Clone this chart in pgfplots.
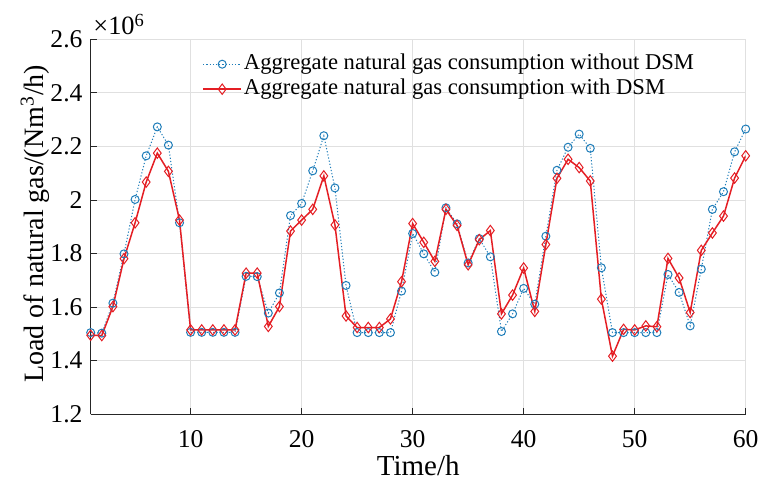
\documentclass[border=0pt]{standalone}
\usepackage{fontspec}
\setmainfont{Liberation Serif}
\usepackage{pgfplots}
\usepackage{pgfplotstable}
\pgfplotsset{compat=1.18}
\definecolor{mblue}{RGB}{30,125,185}
\definecolor{mred}{RGB}{228,30,36}
\definecolor{gridc}{RGB}{224,224,224}
\definecolor{axc}{RGB}{38,38,38}

\pgfplotstableread{
x blue red
1 1.505 1.495
2 1.503 1.494
3 1.615 1.602
4 1.799 1.781
5 2.002 1.915
6 2.165 2.067
7 2.273 2.175
8 2.205 2.107
9 1.915 1.925
10 1.506 1.515
11 1.506 1.515
12 1.506 1.515
13 1.506 1.515
14 1.506 1.515
15 1.715 1.727
16 1.714 1.727
17 1.578 1.528
18 1.653 1.602
19 1.942 1.884
20 1.987 1.925
21 2.109 1.965
22 2.240 2.090
23 2.045 1.907
24 1.681 1.567
25 1.505 1.524
26 1.505 1.524
27 1.505 1.524
28 1.505 1.556
29 1.660 1.695
30 1.875 1.912
31 1.799 1.842
32 1.730 1.771
33 1.971 1.965
34 1.911 1.905
35 1.765 1.758
36 1.856 1.852
37 1.788 1.886
38 1.509 1.575
39 1.575 1.645
40 1.670 1.746
41 1.611 1.584
42 1.865 1.834
43 2.111 2.081
44 2.197 2.152
45 2.246 2.121
46 2.193 2.071
47 1.747 1.630
48 1.505 1.417
49 1.505 1.517
50 1.505 1.515
51 1.505 1.530
52 1.505 1.527
53 1.722 1.782
54 1.655 1.709
55 1.530 1.580
56 1.742 1.812
57 1.965 1.877
58 2.031 1.940
59 2.180 2.082
60 2.265 2.165
}\datatable

\begin{document}
\begin{tikzpicture}
\begin{axis}[
  scale only axis, width=327.5pt, height=187.5pt,
  xmin=1, xmax=60, ymin=1.2, ymax=2.6,
  xtick={10,20,30,40,50,60},
  ytick={1.2,1.4,1.6,1.8,2.0,2.2,2.4,2.6},
  yticklabels={1.2,1.4,1.6,1.8,2,2.2,2.4,2.6},
  scaled y ticks=false,
  /pgf/number format/assume math mode=true,
  axis x line*=bottom, axis y line*=left,
  x axis line style={-}, y axis line style={-},
  axis line style={axc, line width=0.5pt},
  tick style={axc, line width=0.5pt},
  tick align=inside, major tick length=3pt,
  grid=major, major grid style={gridc, line width=0.5pt},
  xticklabel style={font=\fontsize{12.8}{15}\selectfont, inner sep=0pt, anchor=base, yshift=-16.6pt},
  yticklabel style={font=\fontsize{12.8}{15}\selectfont, inner sep=0pt, anchor=east, xshift=-3.9pt},
  xlabel={Time/h},
  xlabel style={font=\fontsize{14.5}{17}\selectfont, at={(axis description cs:0.5,-0.1645)}, anchor=base, inner sep=0pt},
  ylabel={Load of natural gas/(Nm\textsuperscript{3}/h)},
  ylabel style={font=\fontsize{14}{17}\selectfont, at={(axis description cs:-0.0713,0.508)}, anchor=base, inner sep=0pt},
  legend style={at={(axis description cs:0.170,0.968)}, anchor=north west, draw=none, fill=none, inner sep=0pt,
    font=\fontsize{11.3}{13}\selectfont, nodes={inner sep=1pt, text height=8pt, text depth=2.5pt}, column sep=0pt},
  legend cell align=left,
  legend image code/.code={\draw[mark repeat=2,mark phase=2] plot coordinates {(0pt,0pt) (9.5pt,0pt) (19pt,0pt)};},
]
\addplot[mblue, line width=0.5pt, dash pattern=on 0.6pt off 1pt, mark=o, mark size=2pt, mark options={solid, line width=0.5pt}] table[x=x, y=blue] {\datatable};
\addlegendentry{Aggregate natural gas consumption without DSM}
\addplot[mred, line width=0.75pt, mark=diamond, mark size=2.6pt, mark options={solid, line width=0.5pt}] table[x=x, y=red] {\datatable};
\addlegendentry{Aggregate natural gas consumption with DSM}
\end{axis}
\node[anchor=base west, inner sep=0pt, font=\fontsize{13.2}{15}\selectfont, xshift=1.15pt, yshift=2.15pt] at (current axis.north west) {×10\textsuperscript{6}};
\pgfresetboundingbox
\path[use as bounding box] (-45.35pt,-35.85pt) rectangle (335.15pt,207.15pt);
\end{tikzpicture}
\end{document}
